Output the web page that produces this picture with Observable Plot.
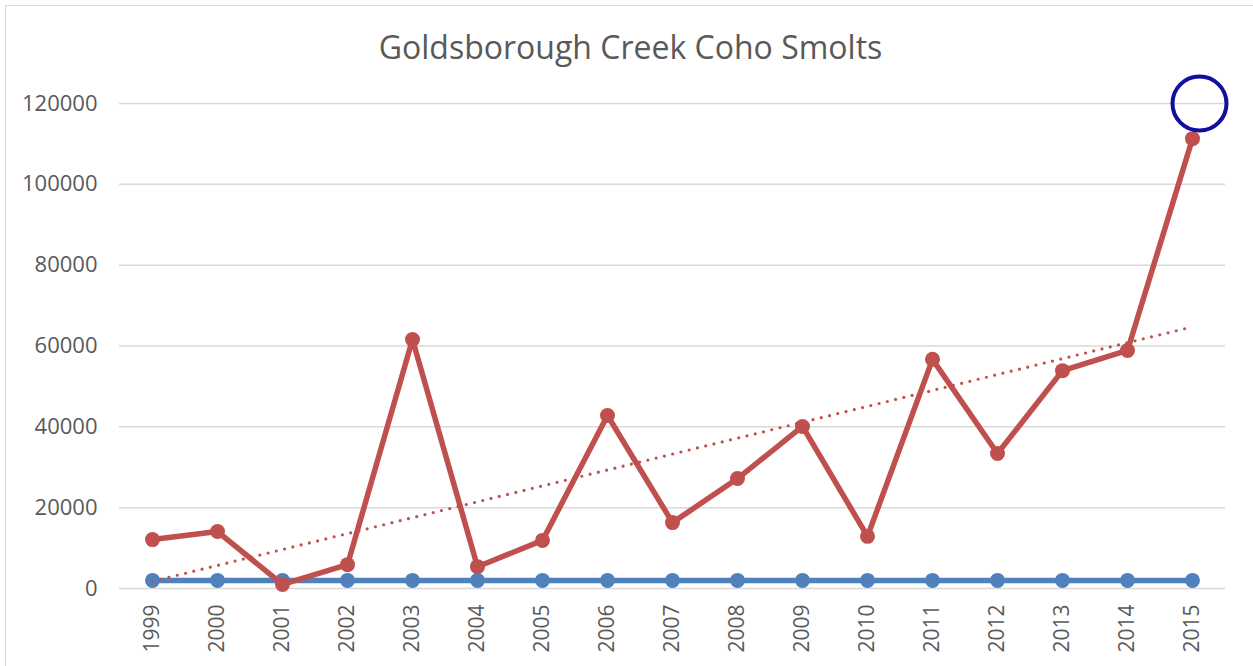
<!DOCTYPE html>
<html>
<head>
<meta charset="utf-8">
<script src="https://cdn.jsdelivr.net/npm/d3@7"></script>
<script src="https://cdn.jsdelivr.net/npm/@observablehq/plot@0.6"></script>
<style>
  html, body { margin: 0; padding: 0; background: #fff; }
  #frame { position: absolute; left: 5px; top: 5px; width: 1260px; height: 670px;
           border-left: 1.5px solid #d9d9d9; border-top: 1.5px solid #d9d9d9; }
  #chart { position: absolute; left: 0; top: 0; }
</style>
</head>
<body>
<div id="frame"></div>
<div id="chart"></div>
<script>
const title = "Goldsborough Creek Coho Smolts";
const years = ["1999","2000","2001","2002","2003","2004","2005","2006","2007","2008","2009","2010","2011","2012","2013","2014","2015"];
const smolts = [12100, 14100, 1000, 5900, 61600, 5400, 11900, 42800, 16300, 27200, 40100, 12900, 56700, 33400, 53900, 58900, 111300];
const baseline = [2000, 2000, 2000, 2000, 2000, 2000, 2000, 2000, 2000, 2000, 2000, 2000, 2000, 2000, 2000, 2000, 2000];
const yTicks = [0, 20000, 40000, 60000, 80000, 100000, 120000];
const highlight = [{year: "2015", value: 120000}];

const red = years.map((y, i) => ({year: y, value: smolts[i]}));
const blue = years.map((y, i) => ({year: y, value: baseline[i]}));

// linear (least squares) trend of the red series, as Excel's trendline
const n = smolts.length;
const xs = d3.range(n);
const mx = d3.mean(xs), my = d3.mean(smolts);
const slope = d3.sum(xs, (x, i) => (x - mx) * (smolts[i] - my)) / d3.sum(xs, x => (x - mx) ** 2);
const trend = years.map((y, i) => ({year: y, value: my + slope * (i - mx)}));

const font = "'Open Sans', sans-serif";
const chart = Plot.plot({
  width: 1253,
  height: 666,
  marginLeft: 119,
  marginRight: 28,
  marginTop: 103,
  marginBottom: 78,
  style: {fontFamily: font, fontSize: "21px", color: "#595959", background: "transparent"},
  x: {type: "point", domain: years, padding: 0.5, label: null},
  y: {domain: [0, 120000], label: null},
  marks: [
    Plot.ruleY(yTicks, {stroke: "#d9d9d9", strokeWidth: 1.5}),
    Plot.axisY({ticks: yTicks, tickSize: 0, tickPadding: 22, tickFormat: d => String(d), fontSize: 22, fill: "#595959"}),
    Plot.axisX({tickSize: 0, tickPadding: 16, tickRotate: -90, fontSize: 21, fill: "#595959"}),
    Plot.line(blue, {x: "year", y: "value", stroke: "#4F81BD", strokeWidth: 5.5}),
    Plot.dot(blue, {x: "year", y: "value", fill: "#4F81BD", r: 7.5}),
    Plot.line(red, {x: "year", y: "value", stroke: "#C0504D", strokeWidth: 5.5}),
    Plot.dot(red, {x: "year", y: "value", fill: "#C0504D", r: 7.5}),
    Plot.line(trend, {x: "year", y: "value", stroke: "#C0504D", strokeWidth: 3.2, strokeDasharray: "0,8.5", strokeLinecap: "round"}),
    Plot.dot(highlight, {x: "year", y: "value", r: 27, stroke: "#10109a", strokeWidth: 4, fill: "none", dx: 7}),
    Plot.text([title], {frameAnchor: "top", lineAnchor: "middle", dx: -42, dy: -55, fontSize: 32, fill: "#595959", fontFamily: font})
  ]
});
document.getElementById("chart").appendChild(chart);
</script>
</body>
</html>
